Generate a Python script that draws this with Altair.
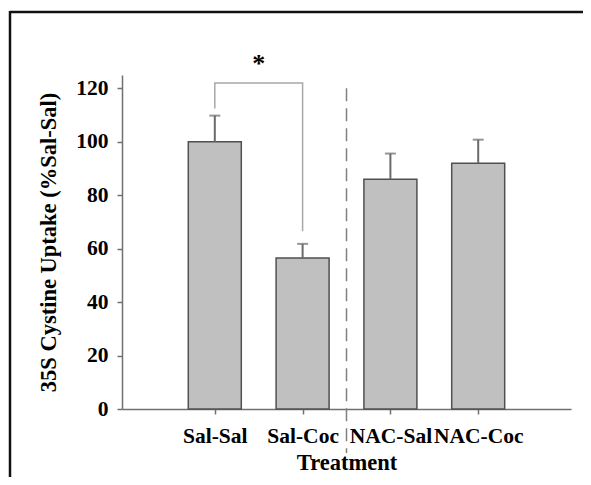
import altair as alt
import pandas as pd

categories = ["Sal-Sal", "Sal-Coc", "NAC-Sal", "NAC-Coc"]
means = [100, 56.5, 86, 92]
sems = [9.8, 5.3, 9.6, 8.8]

# significance bracket between Sal-Sal and Sal-Coc
bracket_x = [1, 1, 2, 2]
bracket_y = [112.5, 122, 122, 66.5]
star_x = 1.5
star_y = 129
divider_x = 2.5
divider_y = [120, -16.5]

positions = list(range(1, len(categories) + 1))
df = pd.DataFrame({
    "pos": positions,
    "cat": categories,
    "mean": means,
    "upper": [m + s for m, s in zip(means, sems)],
})
bdf = pd.DataFrame({"x": bracket_x, "y": bracket_y, "o": list(range(4))})
ddf = pd.DataFrame({"x": [divider_x], "y": [divider_y[0]], "y2": [divider_y[1]]})
sdf = pd.DataFrame({"x": [star_x], "y": [star_y], "t": ["*"]})

label_arr = "[''," + ",".join("'" + c + "'" for c in categories) + "]"

FONT = "Liberation Serif"
xscale = alt.Scale(domain=[0, 5], nice=False, zero=False)
yscale = alt.Scale(domain=[0, 125], nice=False)

xaxis = alt.Axis(
    values=positions, labelExpr=label_arr + "[datum.value]", title="Treatment",
    grid=False, labelOverlap=False, labelBound=False, labelFlush=False,
    tickSize=5, labelPadding=11, titlePadding=5,
)
yaxis = alt.Axis(
    values=[0, 20, 40, 60, 80, 100, 120], title="35S Cystine Uptake (%Sal-Sal)",
    grid=False, tickSize=5, labelPadding=9, titlePadding=15,
)

bars = alt.Chart(df).mark_bar(size=53, color="#c0c0c0", stroke="#505050", strokeWidth=1.5).encode(
    x=alt.X("pos:Q", scale=xscale, axis=xaxis),
    y=alt.Y("mean:Q", scale=yscale, axis=yaxis),
)
err = alt.Chart(df).mark_rule(color="#6a6a6a", strokeWidth=2).encode(
    x="pos:Q", y="mean:Q", y2="upper:Q"
)
caps = alt.Chart(df).mark_tick(orient="horizontal", size=11, thickness=2, color="#6a6a6a").encode(
    x="pos:Q", y="upper:Q"
)
bracket = alt.Chart(bdf).mark_line(color="#a8a8a8", strokeWidth=1.5).encode(
    x="x:Q", y="y:Q", order="o:O"
)
divider = alt.Chart(ddf).mark_rule(color="#808080", strokeWidth=1.5, strokeDash=[13, 7]).encode(
    x="x:Q", y="y:Q", y2="y2:Q"
)
star = alt.Chart(sdf).mark_text(font=FONT, fontSize=26, fontWeight="bold", baseline="middle").encode(
    x="x:Q", y="y:Q", text="t:N"
)
frame_top = alt.Chart(sdf).mark_rule(color="#111111", strokeWidth=2.5).encode(
    x=alt.value(-112), x2=alt.value(470), y=alt.value(-63)
)
frame_left = alt.Chart(sdf).mark_rule(color="#111111", strokeWidth=2.5).encode(
    x=alt.value(-112), y=alt.value(-64), y2=alt.value(405)
)

chart = alt.layer(divider, bars, err, caps, bracket, star, frame_top, frame_left).properties(
    width=449, height=334,
    autosize=alt.AutoSizeParams(type="none"),
    padding={"left": 114, "top": 67, "right": 12, "bottom": 68},
).configure_view(stroke=None).configure_axis(
    domainColor="#707070", tickColor="#707070", domainWidth=1.5, tickWidth=1.5,
    labelFont=FONT, labelFontSize=21.5, labelFontWeight="bold", labelColor="#000000",
    titleFont=FONT, titleFontSize=22.5, titleFontWeight="bold", titleColor="#000000",
)

chart.save("out.html", embed_options={"renderer": "svg", "actions": False})
